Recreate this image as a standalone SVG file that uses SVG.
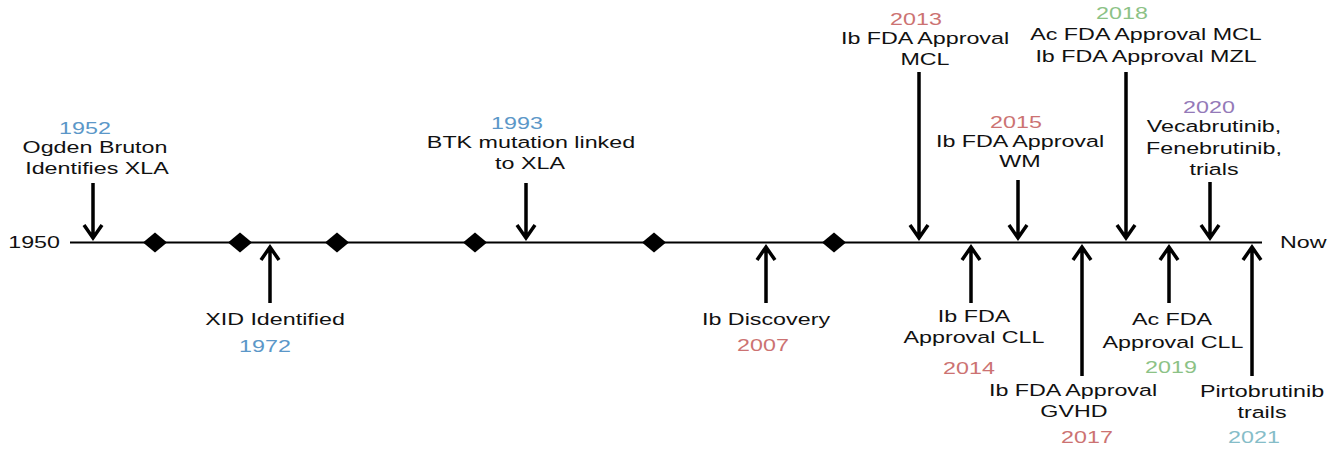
<svg xmlns="http://www.w3.org/2000/svg" width="1330" height="454" viewBox="0 0 1330 454">
<style>
text{font-family:"Liberation Sans",Arial,Helvetica,sans-serif;font-size:17px;fill:#111;text-anchor:middle}
.blue{fill:#5b97c8}.red{fill:#cc7272}.green{fill:#8cc286}.purple{fill:#9479b8}.teal{fill:#86bdc8}
.arr{fill:none;stroke:#000;stroke-width:3.5;stroke-linejoin:miter;stroke-linecap:butt}
.axis{stroke:#000;stroke-width:2}
</style>
<rect width="1330" height="454" fill="#fff"/>
<g id="axis">
<line class="axis" x1="70" y1="242.5" x2="1262" y2="242.5"/>
<text transform="translate(60,248) scale(1.37,1)" style="text-anchor:end">1950</text>
<text transform="translate(1280,248) scale(1.37,1)" style="text-anchor:start">Now</text>
</g>
<g id="ticks" fill="#000">
<polygon points="143,242.5 155,232.5 167,242.5 155,252.5"/>
<polygon points="228,242.5 240,232.5 252,242.5 240,252.5"/>
<polygon points="325,242.5 337,232.5 349,242.5 337,252.5"/>
<polygon points="463,242.5 475,232.5 487,242.5 475,252.5"/>
<polygon points="642,242.5 654,232.5 666,242.5 654,252.5"/>
<polygon points="822,242.5 834,232.5 846,242.5 834,252.5"/>
</g>
<g id="connectors">
<path class="arr" d="M93,183V238M84,225L93,238L102,225"/>
<path class="arr" d="M526,183V238M517,225L526,238L535,225"/>
<path class="arr" d="M919,72V238M910,225L919,238L928,225"/>
<path class="arr" d="M1018,180V238M1009,225L1018,238L1027,225"/>
<path class="arr" d="M1126,72V238M1117,225L1126,238L1135,225"/>
<path class="arr" d="M1210,182V238M1201,225L1210,238L1219,225"/>
<path class="arr" d="M270,303V247M261,260L270,247L279,260"/>
<path class="arr" d="M766,303V247M757,260L766,247L775,260"/>
<path class="arr" d="M971,303V247M962,260L971,247L980,260"/>
<path class="arr" d="M1082,376V247M1073,260L1082,247L1091,260"/>
<path class="arr" d="M1169,303V247M1160,260L1169,247L1178,260"/>
<path class="arr" d="M1252,376V247M1243,260L1252,247L1261,260"/>
</g>
<g id="e1952">
<text class="blue" transform="translate(85,134) scale(1.37,1)">1952</text>
<text transform="translate(95,153) scale(1.37,1)">Ogden Bruton</text>
<text transform="translate(97,174) scale(1.37,1)">Identifies XLA</text>
</g>
<g id="e1972">
<text transform="translate(275,325) scale(1.37,1)">XID Identified</text>
<text class="blue" transform="translate(265,352) scale(1.37,1)">1972</text>
</g>
<g id="e1993">
<text class="blue" transform="translate(517,129) scale(1.37,1)">1993</text>
<text transform="translate(531,147.5) scale(1.37,1)">BTK mutation linked</text>
<text transform="translate(530,169) scale(1.37,1)">to XLA</text>
</g>
<g id="e2007">
<text transform="translate(766,325) scale(1.37,1)">Ib Discovery</text>
<text class="red" transform="translate(763,351) scale(1.37,1)">2007</text>
</g>
<g id="e2013">
<text class="red" transform="translate(916,25) scale(1.37,1)">2013</text>
<text transform="translate(925,44) scale(1.37,1)">Ib FDA Approval</text>
<text transform="translate(925,65) scale(1.37,1)">MCL</text>
</g>
<g id="e2014">
<text transform="translate(974,322) scale(1.37,1)">Ib FDA</text>
<text transform="translate(974,343) scale(1.37,1)">Approval CLL</text>
<text class="red" transform="translate(969,374) scale(1.37,1)">2014</text>
</g>
<g id="e2015">
<text class="red" transform="translate(1016,128) scale(1.37,1)">2015</text>
<text transform="translate(1020,147) scale(1.37,1)">Ib FDA Approval</text>
<text transform="translate(1020,167) scale(1.37,1)">WM</text>
</g>
<g id="e2017">
<text transform="translate(1073,396) scale(1.37,1)">Ib FDA Approval</text>
<text transform="translate(1074,417) scale(1.37,1)">GVHD</text>
<text class="red" transform="translate(1087,443) scale(1.37,1)">2017</text>
</g>
<g id="e2018">
<text class="green" transform="translate(1122,19) scale(1.37,1)">2018</text>
<text transform="translate(1146,40) scale(1.37,1)">Ac FDA Approval MCL</text>
<text transform="translate(1146,62) scale(1.37,1)">Ib FDA Approval MZL</text>
</g>
<g id="e2019">
<text transform="translate(1172,325) scale(1.37,1)">Ac FDA</text>
<text transform="translate(1173,348) scale(1.37,1)">Approval CLL</text>
<text class="green" transform="translate(1171,373) scale(1.37,1)">2019</text>
</g>
<g id="e2020">
<text class="purple" transform="translate(1209,113) scale(1.37,1)">2020</text>
<text transform="translate(1214,132) scale(1.37,1)">Vecabrutinib,</text>
<text transform="translate(1214,154) scale(1.37,1)">Fenebrutinib,</text>
<text transform="translate(1214,175) scale(1.37,1)">trials</text>
</g>
<g id="e2021">
<text transform="translate(1262,397) scale(1.37,1)">Pirtobrutinib</text>
<text transform="translate(1262,418) scale(1.37,1)">trails</text>
<text class="teal" transform="translate(1254,443) scale(1.37,1)">2021</text>
</g>
</svg>
